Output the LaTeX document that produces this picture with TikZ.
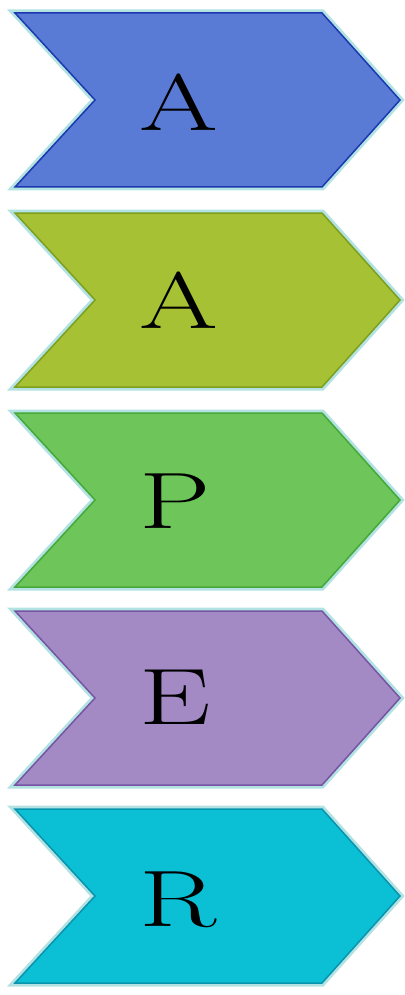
\documentclass[tikz,border=0pt]{standalone}
\usetikzlibrary{calc}
\definecolor{fblue}{HTML}{5A7BD5}\definecolor{bblue}{HTML}{1C38B0}
\definecolor{folive}{HTML}{A6C133}\definecolor{bolive}{HTML}{7E9E1E}
\definecolor{fgreen}{HTML}{6EC55A}\definecolor{bgreen}{HTML}{45A838}
\definecolor{fpurple}{HTML}{A38AC4}\definecolor{bpurple}{HTML}{7654A4}
\definecolor{fcyan}{HTML}{0BBFD5}\definecolor{bcyan}{HTML}{0894AE}
\definecolor{glow}{HTML}{B2E2E2}
\tikzset{
  glowline/.style={draw=glow, line width=7pt, line join=miter},
  letter/.style={inner sep=0pt, anchor=base west, font=\fontsize{80}{84}\selectfont, xscale=1.42, text=black}
}
\newcommand{\chev}[3]{%
  \path[glowline] (15,#1) -- (95,#1+87) -- (15,#1+174) -- (322,#1+174) -- (400,#1+87) -- (322,#1) -- cycle;
  \path[fill=#2, draw=#3, line width=1.5pt, line join=miter] (15,#1) -- (95,#1+87) -- (15,#1+174) -- (322,#1+174) -- (400,#1+87) -- (322,#1) -- cycle;
}
\begin{document}
\begin{tikzpicture}[x=1pt,y=-1pt]
\useasboundingbox (0,0) rectangle (404,995);
\chev{13}{fblue}{bblue}
\chev{213}{folive}{bolive}
\chev{413}{fgreen}{bgreen}
\chev{611}{fpurple}{bpurple}
\chev{809}{fcyan}{bcyan}
\node[letter] (l1) at (139,131) {A};
\node[letter] (l2) at (139,328) {A};
\node[letter] (l3) at (139,528) {P};
\node[letter] (l4) at (139,724) {E};
\node[letter] (l5) at (139,926) {R};
\end{tikzpicture}
\end{document}
